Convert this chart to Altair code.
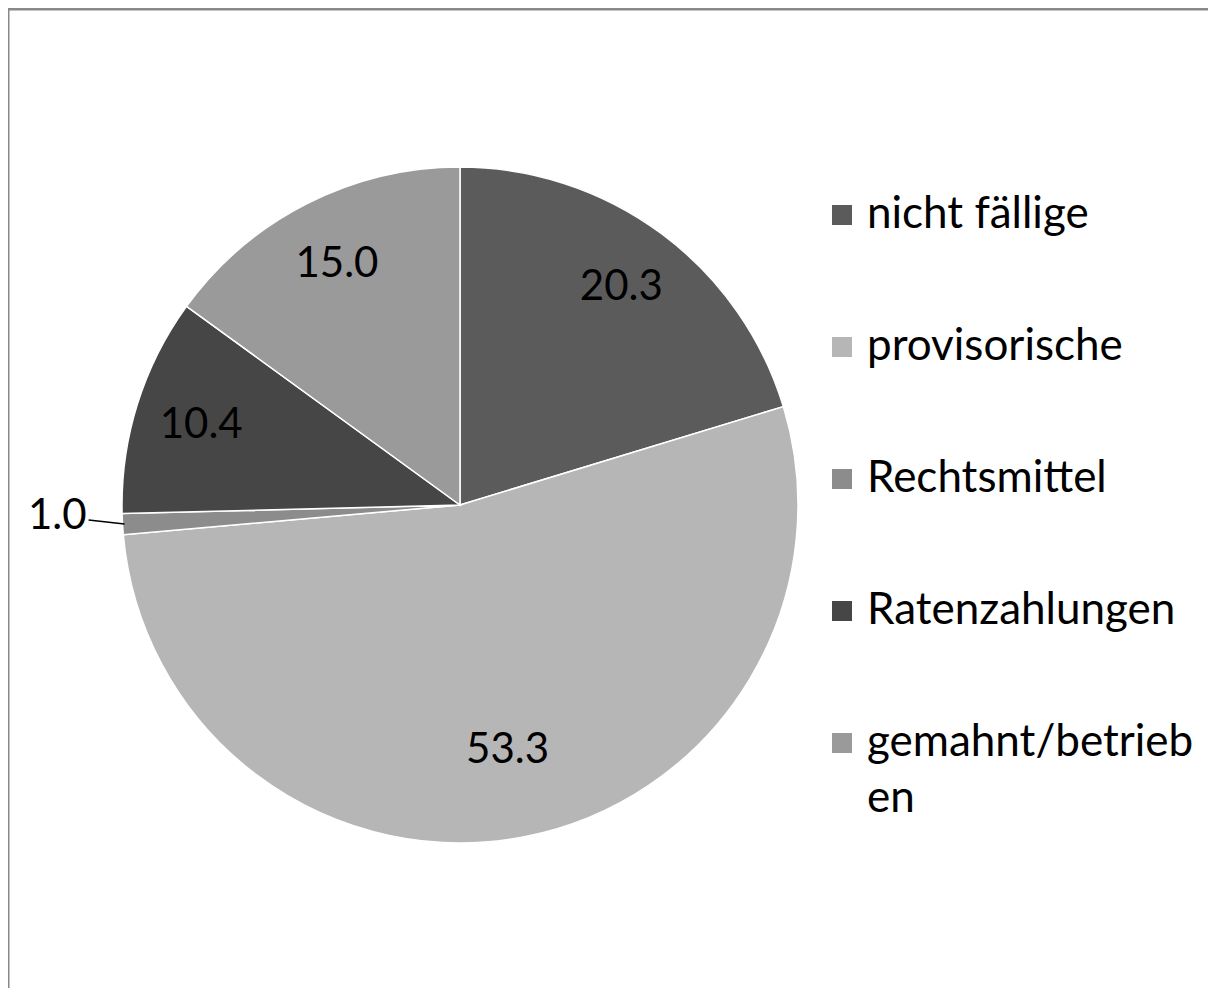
import altair as alt
import pandas as pd

categories = ["nicht fällige", "provisorische", "Rechtsmittel", "Ratenzahlungen", "gemahnt/betrieben"]
values = [20.3, 53.3, 1.0, 10.4, 15.0]
colors = ["#5b5b5b", "#b6b6b6", "#8c8c8c", "#464646", "#9a9a9a"]
label_texts = ["20.3", "53.3", "1.0", "10.4", "15.0"]

df = pd.DataFrame({
    "cat": categories,
    "value": values,
    "idx": list(range(len(categories))),
    "label": label_texts,
})

CX, CY, R = 452, 497, 338
FONT = "Lato"

color_scale = alt.Scale(domain=categories, range=colors)

base = alt.Chart(df)

pie = base.mark_arc(outerRadius=R, stroke="#ffffff", strokeWidth=1.5).encode(
    theta=alt.Theta("value:Q", stack=True),
    order=alt.Order("idx:Q"),
    color=alt.Color(
        "cat:N",
        scale=color_scale,
        sort=categories,
        legend=alt.Legend(
            title=None,
            orient="none",
            legendX=812,
            legendY=185,
            symbolType="square",
            symbolSize=400,
            symbolStrokeWidth=0,
            labelFont=FONT,
            labelFontSize=44,
            labelColor="#000000",
            labelLimit=500,
            labelOffset=3,
            rowPadding=88,
            labelExpr="datum.label == 'gemahnt/betrieben' ? ['gemahnt/betrieb', 'en'] : datum.label",
        ),
    ),
    x=alt.value(CX),
    y=alt.value(CY),
)

# angular positions computed from the data (cumulative share)
geo = base.transform_window(
    cum="sum(value)", sort=[alt.SortField("idx")], frame=[None, 0]
).transform_joinaggregate(
    total="sum(value)"
).transform_calculate(
    mid="(datum.cum - datum.value / 2) / datum.total * 2 * PI",
    lr="datum.cat == 'provisorische' ? 250 : 271",
).transform_calculate(
    lx=f"{CX} + datum.lr * sin(datum.mid)",
    ly=f"{CY} - datum.lr * cos(datum.mid)",
    x1=f"{CX} + {R - 2} * sin(datum.mid)",
    y1=f"{CY} - {R - 2} * cos(datum.mid)",
    x2=f"{CX} + {R + 34} * sin(datum.mid)",
    y2=f"{CY} - {R + 34} * cos(datum.mid) - 6",
)

labels = geo.transform_filter(
    alt.datum.cat != "Rechtsmittel"
).mark_text(font=FONT, fontSize=42, color="#000000").encode(
    x=alt.X("lx:Q", scale=None),
    y=alt.Y("ly:Q", scale=None),
    text="label:N",
)

small_label = geo.transform_filter(
    alt.datum.cat == "Rechtsmittel"
).mark_text(font=FONT, fontSize=42, color="#000000", align="right", dx=-2, dy=-4).encode(
    x=alt.X("x2:Q", scale=None),
    y=alt.Y("y2:Q", scale=None),
    text="label:N",
)

leader = geo.transform_filter(
    alt.datum.cat == "Rechtsmittel"
).mark_rule(color="#000000", strokeWidth=1.5).encode(
    x=alt.X("x1:Q", scale=None),
    y=alt.Y("y1:Q", scale=None),
    x2="x2:Q",
    y2="y2:Q",
)

frame_top = alt.Chart(pd.DataFrame({"a": [0]})).mark_rule(color="#888888", strokeWidth=3).encode(
    x=alt.value(0), x2=alt.value(1207), y=alt.value(1)
)
frame_left = alt.Chart(pd.DataFrame({"a": [0]})).mark_rule(color="#888888", strokeWidth=3).encode(
    x=alt.value(0), y=alt.value(0), y2=alt.value(985)
)

chart = alt.layer(pie, labels, small_label, leader, frame_top, frame_left).properties(
    width=1200,
    height=980,
    padding=0,
    autosize=alt.AutoSizeParams(type="none"),
    background="#ffffff",
).configure_view(stroke=None).configure(
    style={"guide-label": {"lineHeight": 56}}
)

chart.save("out.html", embed_options={"renderer": "svg", "actions": False})
